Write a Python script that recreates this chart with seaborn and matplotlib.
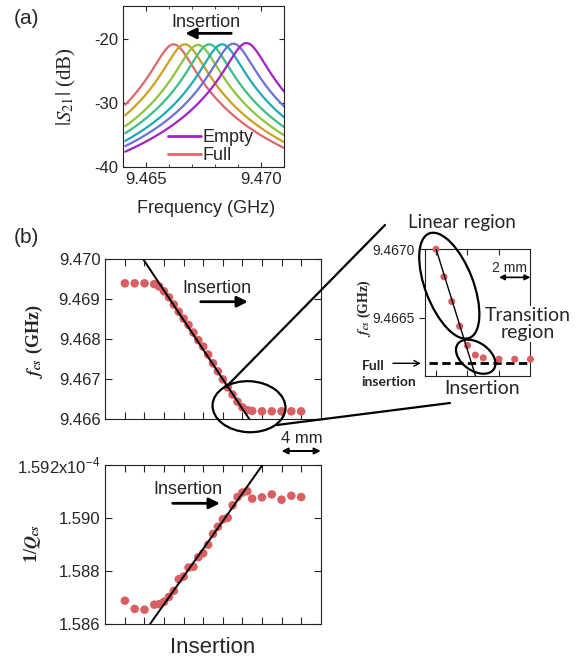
import numpy as np
import pandas as pd
import matplotlib.pyplot as plt
import seaborn as sns
from matplotlib.patches import Ellipse
from matplotlib.lines import Line2D

# (a) resonance peaks, empty (right) -> full insertion (left)
peak_freq = [9.46937, 9.46880, 9.46831, 9.46775, 9.46726, 9.46669, 9.46620]
peak_db = [-20.6, -20.7, -20.8, -20.8, -20.9, -20.8, -20.8]
curve_names = ['Empty', 'c2', 'c3', 'c4', 'c5', 'c6', 'Full']
curve_colors = ['#A422C4', '#6A72D8', '#1CA9B8', '#3DBE84', '#8DC43C', '#CFA020', '#E0666E']
q_loaded = 6300

# (b) insertion position (mm) and measured values
pos_mm = [2, 3, 4, 5, 5.5, 6, 6.5, 7, 7.5, 8, 8.5, 9, 9.5, 10, 10.5, 11, 11.5,
          12, 12.5, 13, 13.5, 14, 14.5, 15, 16, 17, 18, 19, 20]
f_cs = [9.4694, 9.4694, 9.4694, 9.46938, 9.46932, 9.46920, 9.46905, 9.46887,
        9.46869, 9.46852, 9.46836, 9.46817, 9.46798, 9.46782, 9.46762, 9.46740,
        9.46720, 9.46700, 9.46680, 9.46662, 9.46644, 9.46630, 9.46623, 9.46621,
        9.46620, 9.46620, 9.46620, 9.46620, 9.46620]
inv_q = [1.58688, 1.58657, 1.58654, 1.58673, 1.58675, 1.58684, 1.58702, 1.58725,
         1.58769, 1.58779, 1.58813, 1.58816, 1.58852, 1.58867, 1.58899, 1.58940,
         1.58967, 1.58995, 1.59001, 1.59048, 1.59079, 1.59096, 1.59101, 1.59073,
         1.59078, 1.59089, 1.59069, 1.59084, 1.59079]

# linear fits (end points)
fit_f_x = [3.88, 14.72]
fit_f_y = [9.470, 9.466]
fit_q_x = [4.57, 16.05]
fit_q_y = [1.586, 1.592]
full_level = 9.46617

point_color = '#DA5F63'

sns.set_style("ticks")
plt.rcParams['font.family'] = ['Liberation Sans', 'DejaVu Sans']
plt.rcParams['mathtext.fontset'] = 'stix'
plt.rcParams['axes.unicode_minus'] = False
plt.rcParams['xtick.direction'] = 'in'
plt.rcParams['ytick.direction'] = 'in'
plt.rcParams['axes.linewidth'] = 0.8
plt.rcParams['axes.edgecolor'] = '#222222'

W, H = 586, 659
fig = plt.figure(figsize=(W / 100, H / 100), dpi=100)


def fpos(x, y):
    return (x / W, 1 - y / H)


def pix_ellipse(x, y, w, h, angle):
    e = Ellipse((x / 100, (H - y) / 100), w / 100, h / 100, angle=angle,
                transform=fig.dpi_scale_trans, fill=False, ec='black', lw=1.6)
    fig.add_artist(e)


# ---------------- (a) ----------------
ax_a = fig.add_axes([0.2099, 0.7466, 0.2747, 0.2443])
freq = np.linspace(9.4641, 9.4710, 500)
rows = []
for name, f0, p in zip(curve_names, peak_freq, peak_db):
    db = p - 10 * np.log10(1 + (2 * q_loaded * (freq - f0) / f0) ** 2)
    rows.append(pd.DataFrame({'freq': freq, 'db': db, 'curve': name}))
curves = pd.concat(rows)
sns.lineplot(data=curves, x='freq', y='db', hue='curve', hue_order=curve_names[::-1],
             palette=dict(zip(curve_names, curve_colors)), lw=1.6, ax=ax_a, legend=False)
ax_a.set_xlim(9.46416, 9.47092)
ax_a.set_ylim(-40, -14.8)
ax_a.set_xticks([9.465, 9.470])
ax_a.set_xticklabels(['9.465', '9.470'])
ax_a.set_xticks(np.arange(9.464, 9.4711, 0.001), minor=True)
ax_a.set_yticks([-40, -30, -20])
ax_a.tick_params(labelsize=12, top=True, right=True, which='both')
ax_a.set_xlabel('Frequency (GHz)', fontsize=13)
ax_a.xaxis.set_label_coords(0.516, -0.205)
ax_a.set_ylabel(r'$|S_{21}|$ (dB)', fontsize=15, family='Liberation Serif')
ax_a.yaxis.set_label_coords(-0.28, 0.5)
handles = [Line2D([], [], color=curve_colors[0], lw=2), Line2D([], [], color=curve_colors[-1], lw=2)]
ax_a.legend(handles, ['Empty', 'Full'], frameon=False, fontsize=13, loc='lower left',
            bbox_to_anchor=(0.28, 0.018), borderpad=0, handlelength=1.8,
            handletextpad=0.1, labelspacing=0.05, borderaxespad=0)
ax_a.text(0.514, 0.871, 'Insertion', transform=ax_a.transAxes, ha='center', fontsize=13)
ax_a.annotate('', xy=(0.37, 0.83), xytext=(0.69, 0.83), xycoords='axes fraction',
              arrowprops=dict(arrowstyle='-|>', lw=2, color='black', mutation_scale=16))
fig.text(*fpos(14, 9), '(a)', fontsize=15, va='top')
fig.text(*fpos(14, 228), '(b)', fontsize=15, va='top')

# ---------------- (b) top ----------------
ax_f = fig.add_axes([0.1797, 0.3637, 0.3676, 0.2428])
sns.scatterplot(x=pos_mm, y=f_cs, ax=ax_f, color=point_color, s=38, edgecolor='none', zorder=3)
sns.lineplot(x=fit_f_x, y=fit_f_y, ax=ax_f, color='black', lw=1.4, zorder=4)
ax_f.set_xlim(0, 22)
ax_f.set_ylim(9.466, 9.470)
ax_f.set_xticks(np.arange(2, 22, 2))
ax_f.set_xticklabels([])
ax_f.set_yticks([9.466, 9.467, 9.468, 9.469, 9.470])
ax_f.set_yticklabels(['9.466', '9.467', '9.468', '9.469', '9.470'])
ax_f.tick_params(labelsize=12, top=True, right=True, length=5)
ax_f.set_ylabel(r'$\mathbfit{f}_{\mathbfit{cs}}$ (GHz)', fontsize=13,
                family='Liberation Serif', weight='bold')
ax_f.yaxis.set_label_coords(-0.28, 0.483)
ax_f.text(0.518, 0.79, 'Insertion', transform=ax_f.transAxes, ha='center', fontsize=13)
ax_f.annotate('', xy=(0.675, 0.735), xytext=(0.43, 0.735), xycoords='axes fraction',
              arrowprops=dict(arrowstyle='-|>', lw=2, color='black', mutation_scale=16))
ax_f.annotate('', xy=(18, -0.198), xytext=(22, -0.198),
              xycoords=('data', 'axes fraction'),
              arrowprops=dict(arrowstyle='<|-|>', lw=1.4, color='black', mutation_scale=9,
                              shrinkA=0, shrinkB=0), annotation_clip=False)
fig.text(*fpos(301.5, 443), '4 mm', ha='center', va='baseline', fontsize=12)

# ---------------- (b) bottom ----------------
ax_q = fig.add_axes([0.1797, 0.0531, 0.3676, 0.2413])
sns.scatterplot(x=pos_mm, y=inv_q, ax=ax_q, color=point_color, s=38, edgecolor='none', zorder=3)
sns.lineplot(x=fit_q_x, y=fit_q_y, ax=ax_q, color='black', lw=1.4, zorder=4)
ax_q.set_xlim(0, 22)
ax_q.set_ylim(1.586, 1.592)
ax_q.set_xticks(np.arange(2, 22, 2))
ax_q.set_xticklabels([])
ax_q.set_yticks([1.586, 1.588, 1.590, 1.592])
ax_q.set_yticklabels(['1.586', '1.588', '1.590', r'1.592x10$^{\mathregular{-4}}$'])
ax_q.tick_params(labelsize=12, top=True, right=True, length=5)
ax_q.set_ylabel(r'1/$\mathbfit{Q}_{\mathbfit{cs}}$', fontsize=13,
                family='Liberation Serif', weight='bold')
ax_q.yaxis.set_label_coords(-0.29, 0.505)
ax_q.set_xlabel('Insertion', fontsize=16)
ax_q.xaxis.set_label_coords(0.498, -0.08)
ax_q.text(0.382, 0.818, 'Insertion', transform=ax_q.transAxes, ha='center', fontsize=13)
ax_q.annotate('', xy=(0.545, 0.759), xytext=(0.30, 0.759), xycoords='axes fraction',
              arrowprops=dict(arrowstyle='-|>', lw=2, color='black', mutation_scale=16))

# ---------------- inset (transition region zoom) ----------------
ax_in = fig.add_axes([0.7247, 0.4299, 0.1797, 0.1918])
in_x = [x for x in pos_mm if 12 <= x <= 18]
in_y = [y for x, y in zip(pos_mm, f_cs) if 12 <= x <= 18]
sns.scatterplot(x=in_x, y=in_y, ax=ax_in, color=point_color, s=26, edgecolor='none',
                zorder=3, clip_on=False)
sns.lineplot(x=fit_f_x, y=fit_f_y, ax=ax_in, color='black', lw=1.0, zorder=4)
ax_in.plot([11.53, 18], [full_level, full_level], color='black', lw=2, ls=(0, (3, 1.6)),
           clip_on=False, zorder=2)
ax_in.set_xlim(11.28, 17.97)
ax_in.set_ylim(9.46608, 9.4670)
ax_in.set_xticks([12, 14, 16])
ax_in.set_xticklabels([])
ax_in.set_yticks([9.4665, 9.4670])
ax_in.set_yticklabels(['9.4665', '9.4670'])
ax_in.tick_params(axis='y', direction='out', labelsize=10, length=4)
ax_in.tick_params(axis='x', top=True, length=4)
ax_in.set_ylabel(r'$\mathbfit{f}_{\mathbfit{cs}}$ (GHz)', fontsize=10,
                 family='Liberation Serif', weight='bold')
ax_in.yaxis.set_label_coords(-0.49, 0.535)
ax_in.annotate('', xy=(16, 0.778), xytext=(18, 0.778), xycoords=('data', 'axes fraction'),
               arrowprops=dict(arrowstyle='<|-|>', lw=1.2, color='black', mutation_scale=8,
                               shrinkA=0, shrinkB=0), annotation_clip=False)
fig.text(*fpos(510, 271.5), '2 mm', ha='center', va='baseline', fontsize=10)

fig.text(*fpos(462, 228), 'Linear region', ha='center', va='baseline', fontsize=13.5,
         family=['Lato', 'DejaVu Sans'])
fig.text(*fpos(528, 324), 'Transition\nregion', ha='center', va='center', fontsize=14,
         family=['Lato', 'DejaVu Sans'], linespacing=1.05,
         bbox=dict(fc='white', ec='none', pad=0.5))
fig.text(*fpos(481.7, 389), 'Insertion', ha='center', va='center', fontsize=14,
         family=['Lato', 'DejaVu Sans'])
fig.text(*fpos(361.7, 374), 'Full\ninsertion', ha='left', va='center', fontsize=10,
         weight='bold', family=['Lato', 'DejaVu Sans'], linespacing=1.5)
fig.add_artist(plt.Annotation('', xy=fpos(421, 363.3), xytext=fpos(393, 363.3),
                              xycoords='figure fraction',
                              arrowprops=dict(arrowstyle='->', lw=1.0, color='black',
                                              shrinkA=0, shrinkB=0)))

# ellipses and zoom lines
pix_ellipse(249, 406.7, 73, 51, -3)
pix_ellipse(449.3, 285.7, 48, 112, 21)
pix_ellipse(475.7, 356.7, 44, 28, -35)
for (x0, y0), (x1, y1) in [((226, 387), (385, 225)), ((277, 425), (450, 403))]:
    fig.add_artist(Line2D([x0 / W, x1 / W], [1 - y0 / H, 1 - y1 / H],
                          transform=fig.transFigure, color='black', lw=1.6))

fig.savefig('out.png', dpi=100)
